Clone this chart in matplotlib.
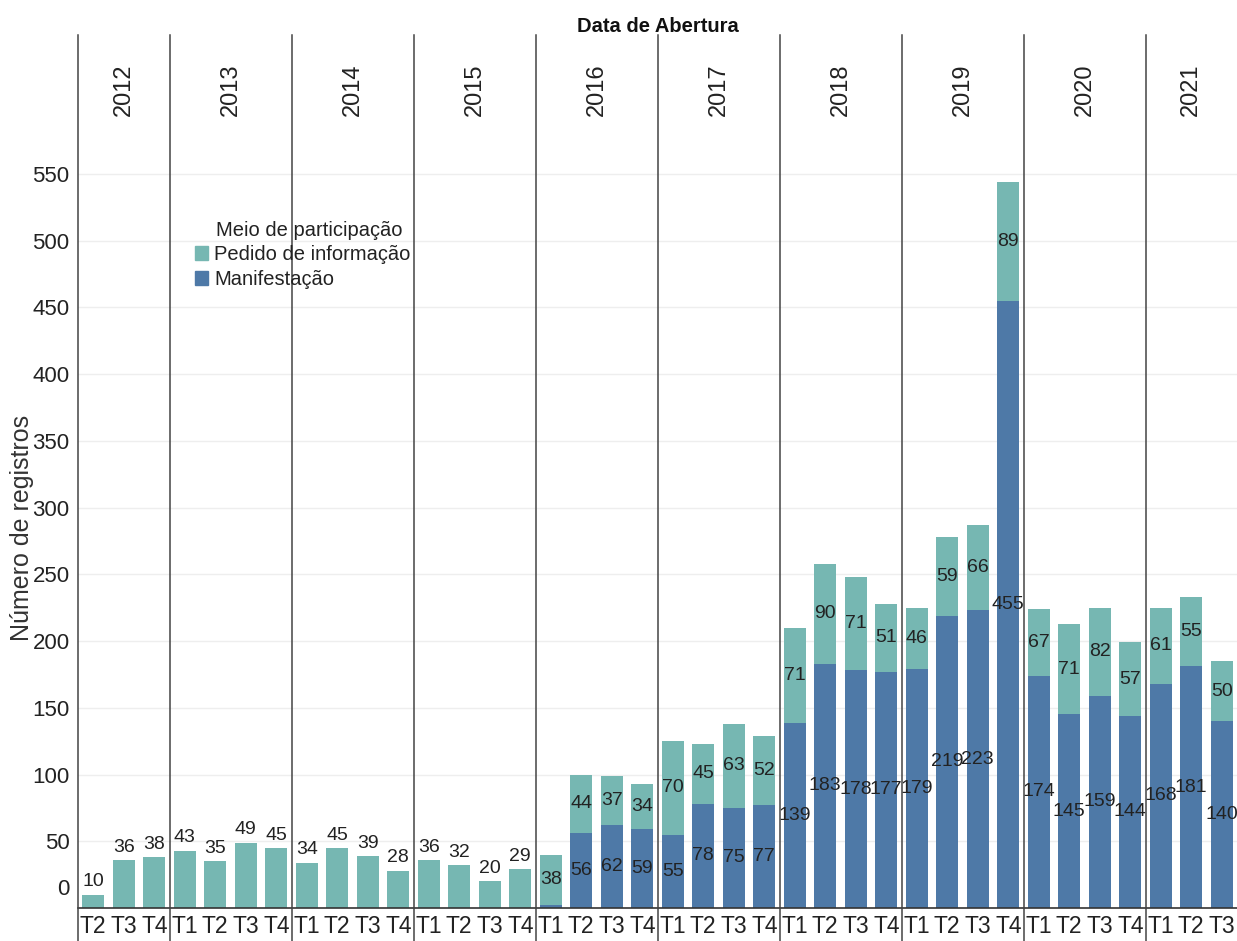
import matplotlib.pyplot as plt
import matplotlib.transforms as mtransforms
from matplotlib.patches import Patch
import numpy as np

## dados
anos = ["2012", "2013", "2014", "2015", "2016", "2017", "2018", "2019", "2020", "2021"]
trimestres_por_ano = [["T2", "T3", "T4"]] + [["T1", "T2", "T3", "T4"]] * 8 + [["T1", "T2", "T3"]]

manifestacao = [0, 0, 0,
                0, 0, 0, 0,
                0, 0, 0, 0,
                0, 0, 0, 0,
                2, 56, 62, 59,
                55, 78, 75, 77,
                139, 183, 178, 177,
                179, 219, 223, 455,
                174, 145, 159, 144,
                168, 181, 140]
# altura das barras de pedido como aparecem no gráfico
pedido = [10, 36, 38,
          43, 35, 49, 45,
          34, 45, 39, 28,
          36, 32, 20, 29,
          38, 44, 37, 34,
          70, 45, 63, 52,
          71, 75, 70, 51,
          46, 59, 64, 89,
          50, 68, 66, 55,
          57, 52, 45]
# rótulos de pedido escritos no gráfico
pedido_rotulo = [10, 36, 38,
                 43, 35, 49, 45,
                 34, 45, 39, 28,
                 36, 32, 20, 29,
                 38, 44, 37, 34,
                 70, 45, 63, 52,
                 71, 90, 71, 51,
                 46, 59, 66, 89,
                 67, 71, 82, 57,
                 61, 55, 50]
y_ticks = [50, 100, 150, 200, 250, 300, 350, 400, 450, 500, 550]

## estilo
cor_pedido = "#76B7B2"
cor_manif = "#4E79A7"
fonte = ["Liberation Sans", "DejaVu Sans"]
cor_texto = "#222222"
plt.rcParams["font.family"] = fonte

W, H = 1237, 941
fig = plt.figure(figsize=(W / 100, H / 100), dpi=100)
ax = fig.add_axes([78 / W, 33 / H, 1159 / W, 758 / H])

labels_x = [t for ts in trimestres_por_ano for t in ts]
n = len(labels_x)
xs = np.arange(n)
manif = np.array(manifestacao)
ped = np.array(pedido)

largura = 0.72
ax.bar(xs, manif, width=largura, color=cor_manif, zorder=2)
ax.bar(xs, ped, width=largura, bottom=manif, color=cor_pedido, zorder=2)

## rótulos das barras
for x, m, p, r in zip(xs, manif, ped, pedido_rotulo):
    if m >= 10:
        ax.text(x, m / 2, str(m), ha="center", va="center", fontsize=14,
                color=cor_texto, zorder=3)
    if m > 0:
        ax.text(x, m + p / 2, str(r), ha="center", va="center", fontsize=14,
                color=cor_texto, zorder=3)
    else:
        ax.annotate(str(r), (x, p), xytext=(0, 3), textcoords="offset points",
                    ha="center", va="bottom", fontsize=14, color=cor_texto, zorder=3)

ax.set_xlim(-0.5, n - 0.5)
ax.set_ylim(0, 568)
ax.set_xticks(xs)
ax.set_xticklabels(labels_x, fontsize=16.5, color=cor_texto)
ax.set_yticks(y_ticks)
ax.set_yticklabels([str(v) for v in y_ticks], fontsize=16, color=cor_texto)
ax.tick_params(axis="both", length=0)
ax.tick_params(axis="x", pad=5)
ax.tick_params(axis="y", pad=6)
ax.annotate("0", (0, 0), xycoords=("axes fraction", "data"), xytext=(-6, 13),
            textcoords="offset points", ha="right", va="center", fontsize=16,
            color=cor_texto)

ax.yaxis.grid(True, color="#eeeeee", lw=1)
ax.set_axisbelow(True)
for s in ["top", "right", "left"]:
    ax.spines[s].set_visible(False)
ax.spines["bottom"].set_color("#333333")
ax.spines["bottom"].set_linewidth(1.2)

## separadores dos anos e cabeçalho
trans = mtransforms.blended_transform_factory(ax.transData, fig.transFigure)
limites = [-0.5]
for ts in trimestres_por_ano:
    limites.append(limites[-1] + len(ts))
for b in limites[:-1]:
    ax.plot([b, b], [0, 1 - 35 / H], transform=trans, color="#444444", lw=1.1,
            clip_on=False, zorder=4)
for i, ano in enumerate(anos):
    centro = (limites[i] + limites[i + 1]) / 2
    ax.text(centro, 1 - 90 / H, ano, transform=trans, rotation=90, ha="center",
            va="center", fontsize=17, color=cor_texto)

fig.text((78 + W) / 2 / W, 1 - 27 / H, "Data de Abertura", ha="center", va="center",
         fontsize=14.5, fontweight="bold", color="#111111")
fig.text(22 / W, 1 - 528 / H, "Número de registros", rotation=90, ha="center",
         va="center", fontsize=18, color="#333333")

## legenda
fig.text(216 / W, 1 - 231 / H, "Meio de participação", ha="left", va="center",
         fontsize=14.5, color=cor_texto)
handles = [Patch(color=cor_pedido, label="Pedido de informação"),
           Patch(color=cor_manif, label="Manifestação")]
leg = fig.legend(handles=handles, loc="upper left",
                 bbox_to_anchor=(195 / W, 1 - 245 / H), frameon=False,
                 fontsize=14.5, handlelength=0.65, handleheight=0.7,
                 handletextpad=0.3, labelspacing=0.3, borderpad=0,
                 borderaxespad=0)
for t in leg.get_texts():
    t.set_color(cor_texto)

fig.savefig("out.png", dpi=100)
